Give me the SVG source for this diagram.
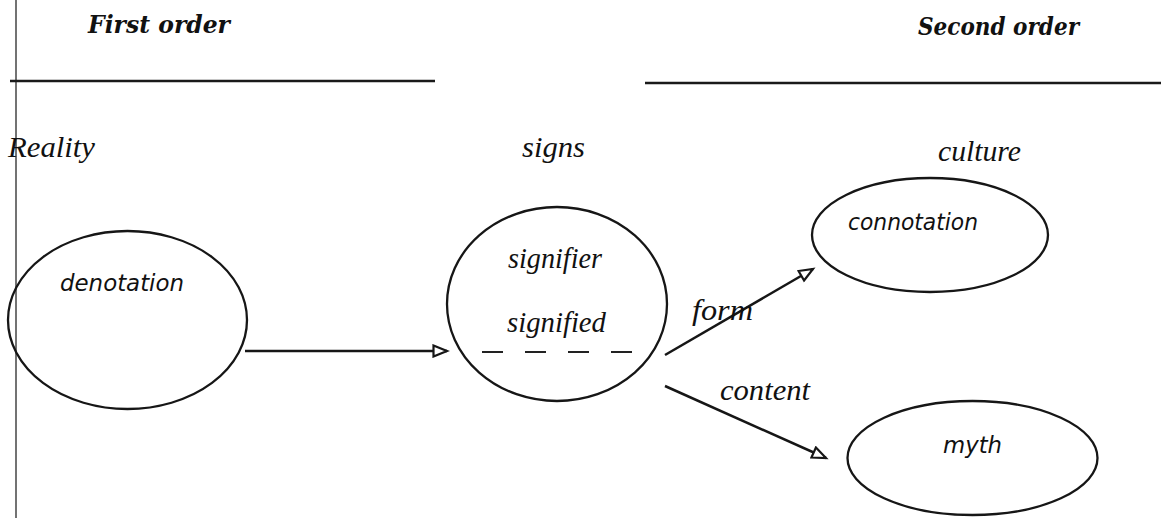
<svg xmlns="http://www.w3.org/2000/svg" width="1161" height="518" viewBox="0 0 1161 518">
<style>
.bg{fill:#ffffff}
.rule{stroke:#1a1a1a;stroke-width:2.5;fill:none}
.frame{stroke:#444;stroke-width:1.5;fill:none}
.node{fill:none;stroke:#161616;stroke-width:2.3}
.conn{stroke:#161616;stroke-width:2.5;fill:none}
.dash{stroke:#222;stroke-width:2;stroke-dasharray:21 22;fill:none}
.head{font-family:"DejaVu Serif","Liberation Serif",serif;font-weight:bold;font-style:italic;font-size:24px;fill:#111}
.lab{font-family:"Liberation Serif","Times New Roman",serif;font-style:italic;font-size:29px;fill:#111}
.sans{font-family:"DejaVu Sans","Liberation Sans",sans-serif;font-style:italic;font-size:23px;fill:#111}
</style>
<defs>
<marker id="arr" markerUnits="userSpaceOnUse" markerWidth="18" markerHeight="14" refX="15" refY="7" orient="auto">
<path d="M1.5,1.5 L15,7 L1.5,12.5 Z" fill="#fff" stroke="#161616" stroke-width="2.2"/>
</marker>
</defs>
<rect class="bg" x="0" y="0" width="1161" height="518"/>
<g id="frame">
<line class="frame" x1="16" y1="0" x2="16" y2="518"/>
<line class="rule" x1="10" y1="81" x2="435" y2="81"/>
<line class="rule" x1="645" y1="83" x2="1161" y2="83"/>
<text class="head" x="88" y="33" textLength="142" lengthAdjust="spacingAndGlyphs">First order</text>
<text class="head" x="918" y="35" textLength="161" lengthAdjust="spacingAndGlyphs">Second order</text>
<text class="lab" x="8" y="157" textLength="87" lengthAdjust="spacingAndGlyphs">Reality</text>
<text class="lab" x="522" y="157" textLength="63" lengthAdjust="spacingAndGlyphs">signs</text>
<text class="lab" x="938" y="161" textLength="83" lengthAdjust="spacingAndGlyphs">culture</text>
</g>
<g id="connectors">
<line class="conn" x1="245" y1="351" x2="447" y2="351" marker-end="url(#arr)"/>
<line class="conn" x1="665" y1="355" x2="813" y2="269" marker-end="url(#arr)"/>
<line class="conn" x1="665" y1="386" x2="826" y2="458" marker-end="url(#arr)"/>
<text class="lab" x="692" y="320" textLength="61" lengthAdjust="spacingAndGlyphs">form</text>
<text class="lab" x="720" y="400" textLength="90" lengthAdjust="spacingAndGlyphs">content</text>
</g>
<g id="denotation">
<ellipse class="node" cx="127.5" cy="320" rx="119.5" ry="89"/>
<text class="sans" x="60" y="291" textLength="124" lengthAdjust="spacingAndGlyphs">denotation</text>
</g>
<g id="signs">
<ellipse class="node" cx="557" cy="304" rx="110" ry="97"/>
<text class="lab" x="508" y="268" textLength="94" lengthAdjust="spacingAndGlyphs">signifier</text>
<text class="lab" x="507" y="332" textLength="99" lengthAdjust="spacingAndGlyphs">signified</text>
<line class="dash" x1="482" y1="352" x2="634" y2="352"/>
</g>
<g id="connotation">
<ellipse class="node" cx="930" cy="235" rx="118" ry="57"/>
<text class="sans" x="848" y="230" textLength="130" lengthAdjust="spacingAndGlyphs">connotation</text>
</g>
<g id="myth">
<ellipse class="node" cx="972.5" cy="458" rx="125" ry="57"/>
<text class="sans" x="943" y="453" textLength="59" lengthAdjust="spacingAndGlyphs">myth</text>
</g>
</svg>
